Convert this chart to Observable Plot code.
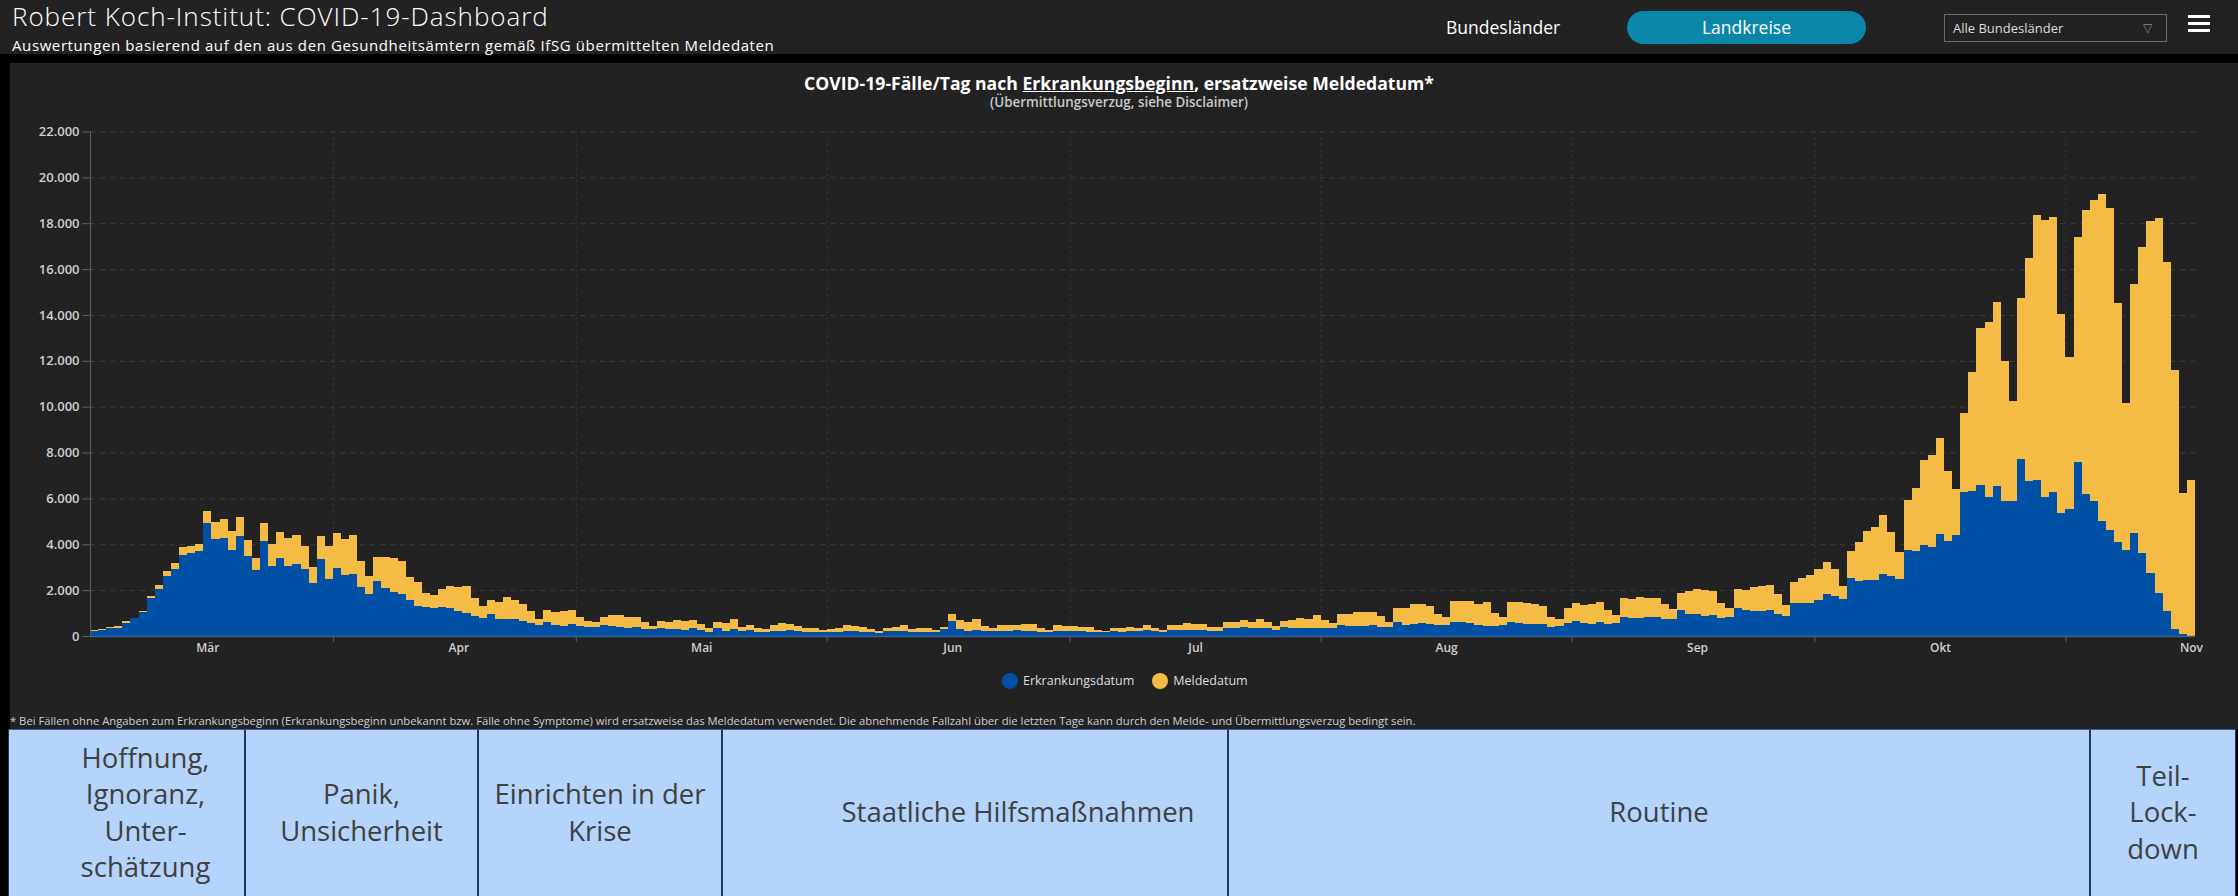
<!DOCTYPE html>
<html><head><meta charset="utf-8">
<script src="https://cdn.jsdelivr.net/npm/d3@7"></script>
<script src="https://cdn.jsdelivr.net/npm/@observablehq/plot@0.6"></script>
<style>
html,body{margin:0;padding:0;background:#000;}
body{width:2238px;height:896px;position:relative;overflow:hidden;font-family:"Open Sans",sans-serif;}
.abs{position:absolute;white-space:nowrap;}
.cell{position:absolute;top:729px;height:170px;box-sizing:border-box;background:#b4d4fc;border:1.5px solid #1f3864;border-top:1px solid #3b5c94;display:flex;align-items:center;justify-content:center;text-align:center;color:#404040;font-size:27.5px;line-height:36.5px;padding-bottom:3px;}
.ham{position:absolute;left:2188px;width:22px;height:2.5px;background:#fff;}
</style></head><body>
<div class="abs" style="left:0;top:0;width:2238px;height:54px;background:#222;"></div>
<div class="abs" style="left:12px;top:1px;font-size:26px;line-height:30px;letter-spacing:0.95px;color:#fff;font-weight:300;">Robert Koch-Institut: COVID-19-Dashboard</div>
<div class="abs" style="left:12px;top:35.5px;font-size:15px;line-height:18px;letter-spacing:0.6px;color:#fff;">Auswertungen basierend auf den aus den Gesundheitsämtern gemäß IfSG übermittelten Meldedaten</div>
<div class="abs" style="left:1446px;top:15px;font-size:17.5px;line-height:24px;color:#fff;">Bundesländer</div>
<div class="abs" style="left:1627px;top:11px;width:239px;height:33px;border-radius:17px;background:#0a86a8;color:#fff;font-size:17.5px;line-height:33px;text-align:center;">Landkreise</div>
<div class="abs" style="left:1944px;top:14px;width:223px;height:28px;box-sizing:border-box;border:1px solid #6a6a6a;color:#ddd;font-size:13px;line-height:26px;padding-left:8px;">Alle Bundesländer<span style="position:absolute;left:198px;top:0;color:#888;font-size:12px;">▽</span></div>
<div class="ham" style="top:15px;"></div><div class="ham" style="top:22px;"></div><div class="ham" style="top:29px;"></div>
<div class="abs" style="left:10px;top:63px;width:2228px;height:666px;background:#222;"></div>
<div class="abs" style="left:0;top:72px;width:2238px;text-align:center;font-size:17.6px;line-height:22px;font-weight:700;color:#fff;">COVID-19-Fälle/Tag nach <u>Erkrankungsbeginn</u>, ersatzweise Meldedatum*</div>
<div class="abs" style="left:0;top:95px;width:2238px;text-align:center;font-size:13.4px;line-height:15px;font-weight:600;color:#c8c8c8;">(Übermittlungsverzug, siehe Disclaimer)</div>
<div id="chart" class="abs" style="left:0;top:120px;"></div>
<div id="legend" class="abs" style="left:1002px;top:672px;height:18px;font-size:12.5px;line-height:18px;color:#ddd;"></div>
<div class="abs" style="left:10px;top:714px;font-size:11.25px;line-height:14px;color:#cfcfcf;">* Bei Fällen ohne Angaben zum Erkrankungsbeginn (Erkrankungsbeginn unbekannt bzw. Fälle ohne Symptome) wird ersatzweise das Meldedatum verwendet. Die abnehmende Fallzahl über die letzten Tage kann durch den Melde- und Übermittlungsverzug bedingt sein.</div>
<div id="phases"></div>
<script>
// ---------- data ----------
const startDatum = "2020-03-02";
const erk_Mar = [230, 250, 340, 370, 570, 770, 1040, 1640, 2070, 2610, 2920, 3550, 3620, 3720, 4930, 4220, 4280, 3740, 4340, 3500, 2890, 4160, 3070, 3400, 3040, 3140, 2930, 2310, 3360, 2480];
const ges_Mar = [280, 310, 380, 420, 640, 800, 1080, 1750, 2220, 2820, 3180, 3870, 3910, 4030, 5460, 4950, 5120, 4570, 5200, 4200, 3400, 4930, 4020, 4530, 4280, 4420, 3910, 3020, 4350, 3940];
const erk_Apr = [2960, 2640, 2690, 2120, 1850, 2410, 2090, 1940, 1850, 1590, 1300, 1270, 1240, 1270, 1210, 1100, 1020, 890, 770, 960, 760, 760, 720, 640, 570, 470, 630, 500, 450, 530];
const ges_Apr = [4470, 4220, 4410, 3260, 2630, 3460, 3450, 3390, 3290, 2560, 2340, 1880, 1770, 2060, 2160, 2130, 2180, 1640, 1300, 1590, 1470, 1690, 1580, 1390, 1080, 760, 1140, 1050, 1100, 1120];
const erk_Mai = [420, 380, 390, 500, 440, 400, 370, 380, 310, 290, 340, 310, 290, 240, 340, 270, 190, 340, 200, 300, 200, 240, 190, 190, 230, 210, 240, 210, 190, 160, 160];
const ges_Mai = [820, 670, 610, 820, 900, 930, 840, 840, 630, 440, 670, 630, 700, 640, 700, 510, 370, 630, 570, 730, 410, 460, 330, 290, 460, 560, 510, 430, 370, 330, 260];
const erk_Jun = [160, 190, 200, 200, 190, 170, 130, 200, 200, 210, 190, 190, 190, 160, 290, 660, 300, 230, 270, 230, 200, 230, 200, 240, 210, 210, 190, 160, 230, 200];
const ges_Jun = [290, 360, 490, 440, 410, 290, 200, 360, 400, 490, 300, 370, 340, 270, 410, 940, 700, 590, 730, 440, 370, 500, 490, 490, 510, 510, 330, 240, 470, 440];
const erk_Jul = [200, 200, 190, 170, 160, 200, 190, 200, 200, 240, 210, 190, 260, 240, 270, 240, 270, 230, 230, 340, 340, 390, 330, 360, 330, 270, 410, 360, 360, 360, 370];
const ges_Jul = [440, 410, 410, 270, 230, 360, 360, 400, 370, 490, 370, 270, 490, 490, 560, 510, 510, 400, 390, 600, 600, 700, 630, 730, 600, 440, 670, 710, 770, 760, 900];
const erk_Aug = [370, 360, 490, 430, 430, 440, 460, 410, 390, 600, 500, 540, 560, 530, 490, 460, 590, 590, 560, 470, 450, 420, 470, 610, 570, 510, 510, 510, 390, 440, 580];
const ges_Aug = [710, 560, 940, 970, 1060, 1060, 1060, 860, 600, 1240, 1210, 1410, 1410, 1330, 960, 810, 1530, 1510, 1530, 1390, 1470, 1010, 830, 1470, 1470, 1420, 1390, 1310, 850, 730, 1230];
const erk_Sep = [640, 580, 540, 610, 510, 580, 830, 800, 800, 820, 820, 760, 760, 1120, 980, 980, 880, 910, 770, 830, 1200, 1120, 1080, 1080, 1120, 980, 880, 1460, 1460, 1420];
const ges_Sep = [1420, 1360, 1400, 1490, 1120, 910, 1640, 1610, 1710, 1640, 1640, 1390, 1170, 1870, 1970, 2040, 2020, 1970, 1460, 1200, 2040, 2020, 2120, 2160, 2230, 1850, 1360, 2370, 2530, 2670];
const erk_Okt = [1590, 1850, 1760, 1630, 2530, 2390, 2460, 2430, 2710, 2610, 2490, 3770, 3700, 3960, 3900, 4440, 4130, 4410, 6290, 6320, 6580, 6070, 6540, 5900, 5900, 7720, 6770, 6800, 6040, 6270, 5370];
const ges_Okt = [2910, 3230, 2900, 2200, 3710, 4080, 4560, 4770, 5260, 4530, 3680, 5950, 6460, 7670, 7890, 8630, 7190, 6390, 9740, 11500, 13410, 13700, 14570, 11980, 10260, 14750, 16480, 18370, 18120, 18250, 14030];
const erk_Nov = [5520, 7600, 6190, 5880, 5010, 4640, 4090, 3760, 4480, 3640, 2750, 1880, 1110, 290, 90, 20];
const ges_Nov = [12170, 17390, 18590, 19030, 19270, 18650, 14510, 10160, 15340, 16970, 18110, 18210, 16300, 11600, 6220, 6800];
const monatLabels = ["Mär", "Apr", "Mai", "Jun", "Jul", "Aug", "Sep", "Okt", "Nov"];
const yTicks = [0, 2000, 4000, 6000, 8000, 10000, 12000, 14000, 16000, 18000, 20000, 22000];
const serien = ["Erkrankungsdatum", "Meldedatum"];
const phasen = ["Hoffnung,<br>Ignoranz,<br>Unter-<br>schätzung", "Panik,<br>Unsicherheit", "Einrichten in der<br>Krise", "Staatliche Hilfsmaßnahmen", "Routine", "Teil-<br>Lock-<br>down"];

// ---------- layout / styles ----------
const farben = ["#0050a5", "#f5bc45"];
const phasenGrenzen = [8, 245, 478, 722, 1228, 2090, 2236];
const phasenPadLeft = [38, 0, 0, 86, 0, 0];

const erk = [].concat(erk_Mar, erk_Apr, erk_Mai, erk_Jun, erk_Jul, erk_Aug, erk_Sep, erk_Okt, erk_Nov);
const ges = [].concat(ges_Mar, ges_Apr, ges_Mai, ges_Jun, ges_Jul, ges_Aug, ges_Sep, ges_Okt, ges_Nov);
const start = new Date(startDatum + "T00:00:00Z");
const rows = erk.map((e, i) => ({date: d3.utcDay.offset(start, i), next: d3.utcDay.offset(start, i + 1), erk: e, ges: ges[i]}));
const end = d3.utcDay.offset(start, erk.length);
const monthStarts = d3.utcMonth.range(new Date(Date.UTC(2020, 3, 1)), end);
const labelDates = monatLabels.map((m, i) => new Date(Date.UTC(2020, 2 + i, 16, 12)));
const fmt = d3.formatLocale({decimal: ",", thousands: ".", grouping: [3], currency: ["", " €"]}).format(",d");

const chart = Plot.plot({
  width: 2238, height: 560,
  marginLeft: 90, marginRight: 43, marginTop: 11.5, marginBottom: 44,
  style: {background: "transparent", fontFamily: "Open Sans", overflow: "visible"},
  x: {type: "utc", domain: [start, end], axis: null},
  y: {domain: [0, 22000], axis: null},
  marks: [
    Plot.ruleY(yTicks.filter(d => d > 0), {stroke: "#3e3e3e", strokeDasharray: "5,5"}),
    Plot.ruleX(monthStarts, {stroke: "#3e3e3e", strokeDasharray: "2,4"}),
    Plot.rectY(rows, {x1: "date", x2: "next", y1: 0, y2: "erk", fill: farben[0], shapeRendering: "crispEdges"}),
    Plot.rectY(rows, {x1: "date", x2: "next", y1: "erk", y2: "ges", fill: farben[1], shapeRendering: "crispEdges"}),
    Plot.ruleX([start], {stroke: "#5e5e5e"}),
    Plot.ruleY([0], {stroke: "#3f5f8a", strokeWidth: 1.5}),
    Plot.axisY(yTicks, {tickFormat: fmt, tickSize: 8, tickPadding: 3, stroke: "#5e5e5e", fill: "#cfcfcf", fontSize: 13, fontWeight: 600, label: null}),
    Plot.axisX(monthStarts, {tickFormat: () => "", tickSize: 6, stroke: "#5e5e5e", label: null}),
    Plot.axisX(labelDates, {tickFormat: d => monatLabels[d.getUTCMonth() - 2], tickSize: 0, tickPadding: 7, fill: "#cfcfcf", fontSize: 12, fontWeight: 600, label: null})
  ]
});
document.getElementById("chart").appendChild(chart);

// legend
const leg = document.getElementById("legend");
serien.forEach((s, i) => {
  const item = document.createElement("span");
  item.style.cssText = "display:inline-flex;align-items:center;margin-right:" + (i === 0 ? 18 : 0) + "px;";
  item.innerHTML = `<span style="display:inline-block;width:16px;height:16px;border-radius:50%;background:${farben[i]};margin-right:5px;"></span>${s}`;
  leg.appendChild(item);
});

// phases table
const ph = document.getElementById("phases");
phasen.forEach((t, i) => {
  const c = document.createElement("div");
  c.className = "cell";
  c.style.left = phasenGrenzen[i] + "px";
  c.style.width = (phasenGrenzen[i + 1] - phasenGrenzen[i]) + "px";
  c.style.paddingLeft = phasenPadLeft[i] + "px";
  c.innerHTML = `<div style="white-space:nowrap;">${t}</div>`;
  ph.appendChild(c);
});
</script>
</body></html>
